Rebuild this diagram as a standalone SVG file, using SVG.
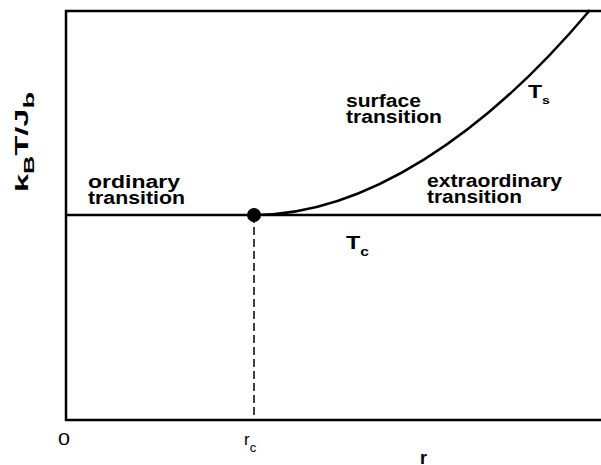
<svg xmlns="http://www.w3.org/2000/svg" width="601" height="465" viewBox="0 0 601 465">
<style>
.b{font-family:"Liberation Sans",Arial,sans-serif;font-weight:bold;font-size:18px;fill:#000}
.n{font-family:"Liberation Sans",Arial,sans-serif;font-size:17px;fill:#000}
.ln{stroke:#000;stroke-width:2.5;fill:none}
</style>
<rect width="601" height="465" fill="#fff"/>
<g id="connectors">
<path class="ln" d="M601,11 H66 V420 H601"/>
<path class="ln" d="M66,215 H601"/>
<path d="M254,215 V420" stroke="#000" stroke-width="1.5" stroke-dasharray="8,4" fill="none"/>
<path class="ln" d="M254,215 C365,215 485,135 590,10"/>
</g>
<g id="critical-point"><circle cx="254" cy="215" r="7" fill="#000"/></g>
<g id="ordinary">
<text class="b" x="88" y="188" textLength="92" lengthAdjust="spacingAndGlyphs">ordinary</text>
<text class="b" x="88" y="204" textLength="97" lengthAdjust="spacingAndGlyphs">transition</text>
</g>
<g id="surface">
<text class="b" x="346" y="107" textLength="75" lengthAdjust="spacingAndGlyphs">surface</text>
<text class="b" x="346" y="123" textLength="96" lengthAdjust="spacingAndGlyphs">transition</text>
</g>
<g id="extraordinary">
<text class="b" x="427" y="187" textLength="135" lengthAdjust="spacingAndGlyphs">extraordinary</text>
<text class="b" x="427" y="203" textLength="95" lengthAdjust="spacingAndGlyphs">transition</text>
</g>
<g id="Ts"><text class="b" x="528" y="98" font-size="21" textLength="22" lengthAdjust="spacingAndGlyphs">T<tspan font-size="11" dy="6">s</tspan></text></g>
<g id="Tc"><text class="b" x="346" y="249" font-size="23" textLength="23" lengthAdjust="spacingAndGlyphs">T<tspan font-size="12" dy="7">c</tspan></text></g>
<g id="ylabel"><text class="b" font-size="24" transform="translate(28,192) rotate(-90)" textLength="100" lengthAdjust="spacingAndGlyphs">k<tspan font-size="14" dy="6">B</tspan><tspan dy="-6">T/J</tspan><tspan font-size="15" dy="6">b</tspan></text></g>
<g id="xlabels">
<text class="n" x="58" y="445" textLength="12" lengthAdjust="spacingAndGlyphs">0</text>
<text class="n" x="244" y="445" font-size="18">r<tspan font-size="13" dy="7">c</tspan></text>
<text class="b" x="420" y="464" font-size="23">r</text>
</g>
</svg>
